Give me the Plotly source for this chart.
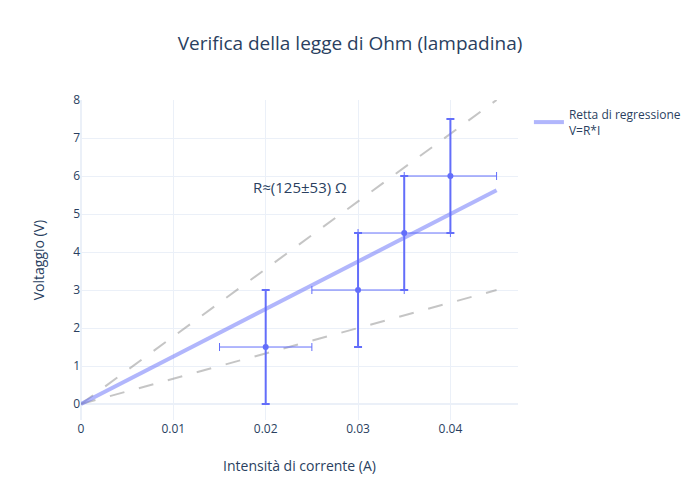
import plotly.graph_objects as go

corrente = [0.02, 0.03, 0.035, 0.04]
voltaggio = [1.5, 3.0, 4.5, 6.0]
err_corrente = [0.005, 0.005, 0.005, 0.005]
err_voltaggio = [1.5, 1.5, 1.5, 1.5]

retta_x = [0, 0.045]
retta_y = [0, 5.625]
max_y = [0, 8.0]
min_y = [0, 3.0]

fig = go.Figure()
fig.add_trace(go.Scatter(x=retta_x, y=max_y, mode="lines",
                         line=dict(color="rgba(150,150,150,0.55)", dash="longdash", width=2),
                         showlegend=False))
fig.add_trace(go.Scatter(x=retta_x, y=min_y, mode="lines",
                         line=dict(color="rgba(150,150,150,0.55)", dash="longdash", width=2),
                         showlegend=False))
fig.add_trace(go.Scatter(x=retta_x, y=retta_y, mode="lines",
                         line=dict(color="rgba(99,110,250,0.5)", width=4),
                         name="Retta di regressione<br>V=R*I"))
fig.add_trace(go.Scatter(x=corrente, y=voltaggio, mode="markers",
                         marker=dict(color="#636efa", size=6),
                         error_x=dict(type="data", array=err_corrente, color="#636efa", thickness=1, width=4),
                         error_y=dict(type="data", array=err_voltaggio, color="#636efa", thickness=2, width=4),
                         showlegend=False))

fig.add_annotation(x=0.0237, y=5.7, text="R≈(125±53) Ω", showarrow=False,
                   font=dict(size=15))

fig.update_layout(
    template="plotly_white",
    width=700, height=500,
    margin=dict(l=81, r=182, t=100, b=80),
    title=dict(text="Verifica della legge di Ohm (lampadina)", x=0.5, font=dict(size=19)),
    legend=dict(x=1.025),
    xaxis=dict(title=dict(text="Intensità di corrente (A)", standoff=25), range=[0, 0.04732]),
    yaxis=dict(title=dict(text="Voltaggio (V)", standoff=25), range=[-0.42, 8]),
)

fig.write_html("out.html", config={"displayModeBar": False},
               post_script="document.body.style.margin='0';")
